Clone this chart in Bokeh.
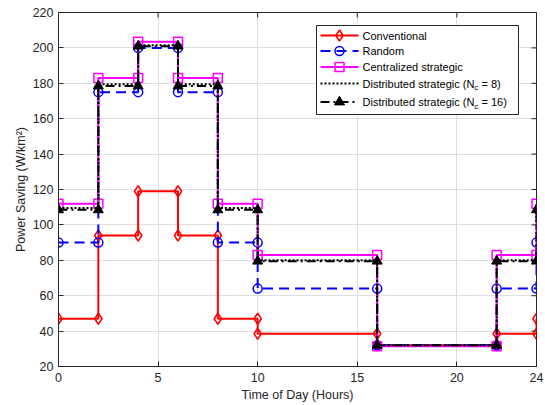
from bokeh.plotting import figure
from bokeh.models import Range1d, FixedTicker
from bokeh.core.properties import value
from bokeh.embed import file_html
from bokeh.resources import INLINE

# ---------------- data ----------------
hours = [0, 2, 4, 6, 8, 10, 16, 22, 24]
conventional = [47, 94, 119, 94, 47, 38.5, 32, 38.5]
random_ = [90, 175, 200, 175, 90, 64, 32, 64]
centralized = [112, 183, 203.5, 183, 112, 83, 31.5, 83]
dist_nc8 = [109.5, 179.5, 201.5, 179.5, 109.5, 80, 32, 80]
dist_nc16 = [108.5, 178.5, 201, 178.5, 108.5, 79.5, 32, 79.5]

x_ticks = [0, 5, 10, 15, 20, 24]
y_ticks = [20, 40, 60, 80, 100, 120, 140, 160, 180, 200, 220]

FONT = "Liberation Sans"
AX = "#262626"

X0, X1, Y0, Y1 = 0, 24, 20, 220
FW, FH = 478, 354
BL, BT, BR, BB = 58, 12, 9, 39

p = figure(width=BL + FW + BR, height=BT + FH + BB, frame_width=FW, frame_height=FH,
           output_backend="svg", toolbar_location=None,
           x_range=Range1d(X0, X1), y_range=Range1d(Y0, Y1),
           min_border_left=BL, min_border_top=BT, min_border_right=BR, min_border_bottom=BB)
p.background_fill_color = "white"
p.border_fill_color = "white"
p.outline_line_color = AX
p.outline_line_width = 1

for ax in (p.xaxis[0], p.yaxis[0]):
    ax.axis_line_color = AX
    ax.major_tick_line_color = AX
    ax.major_tick_in = 5
    ax.major_tick_out = 0
    ax.minor_tick_line_color = None
    ax.major_label_text_color = AX
    ax.major_label_text_font = FONT
    ax.major_label_text_font_size = "12.5px"
    ax.axis_label_text_font = FONT
    ax.axis_label_text_font_size = "12.5px"
    ax.axis_label_text_font_style = "normal"
    ax.axis_label_text_color = AX

p.xaxis.ticker = FixedTicker(ticks=x_ticks)
p.yaxis.ticker = FixedTicker(ticks=y_ticks)
p.xaxis.axis_label = "Time of Day (Hours)"
p.yaxis.axis_label = "Power Saving (W/km²)"
p.xaxis.major_label_standoff = 6
p.xaxis.axis_label_standoff = 3
p.yaxis.major_label_standoff = 5
p.yaxis.axis_label_standoff = 2

p.xgrid.ticker = FixedTicker(ticks=x_ticks)
p.ygrid.ticker = FixedTicker(ticks=y_ticks)
p.grid.grid_line_color = "#dfdfdf"
p.grid.grid_line_width = 1

# inward ticks on top and right edges (box style)
tlx = 5 * (X1 - X0) / FW
tly = 5 * (Y1 - Y0) / FH
p.segment(x0=x_ticks, x1=x_ticks, y0=[Y1] * len(x_ticks), y1=[Y1 - tly] * len(x_ticks),
          line_color=AX, line_width=1)
p.segment(x0=[X1] * len(y_ticks), x1=[X1 - tlx] * len(y_ticks), y0=y_ticks, y1=y_ticks,
          line_color=AX, line_width=1)


def stairs(vals):
    xs, ys = [], []
    for i, v in enumerate(vals):
        xs += [hours[i], hours[i + 1]]
        ys += [v, v]
    xs.append(hours[-1])
    ys.append(vals[0])
    return xs, ys


series = [
    (conventional, dict(line_color="red", line_width=2),
     dict(marker="diamond", size=11, line_color="red", fill_color=None, line_width=1.5)),
    (random_, dict(line_color="blue", line_width=2, line_dash="10 6"),
     dict(marker="circle", size=9, line_color="blue", fill_color=None, line_width=1.5)),
    (centralized, dict(line_color="magenta", line_width=2),
     dict(marker="square", size=9, line_color="magenta", fill_color=None, line_width=1.5)),
    (dist_nc8, dict(line_color="black", line_width=2, line_dash="2 2"), None),
    (dist_nc16, dict(line_color="black", line_width=2, line_dash="9 4 2 4"),
     dict(marker="triangle", size=10, line_color="black", fill_color="black", line_width=1)),
]

for vals, lkw, mkw in series:
    xs, ys = stairs(vals)
    p.line(xs, ys, **lkw)
    if mkw:
        p.scatter(xs, ys, **mkw)

# ---------------- custom legend ----------------
FL_PAGE, FT_PAGE = BL, BT


def px_x(px):
    return X0 + (px - FL_PAGE) / FW * (X1 - X0)


def px_y(py):
    return Y1 - (py - FT_PAGE) / FH * (Y1 - Y0)


p.quad(left=px_x(316), right=px_x(518), top=px_y(25), bottom=px_y(114),
       fill_color="white", line_color=AX, line_width=1)

ARIAL = {" ": 278, "(": 333, ")": 333, "=": 584, "1": 556, "6": 556, "8": 556,
         "D": 722, "N": 722, "a": 556, "b": 556, "c": 500, "d": 556, "e": 556,
         "g": 556, "i": 222, "r": 333, "s": 500, "t": 278, "u": 556}


def text_w(s, size):
    return sum(ARIAL.get(ch, 556) for ch in s) / 1000.0 * size


labels = ["Conventional", "Random", "Centralized strategic",
          ("Distributed strategic (N", "c", " = 8)"),
          ("Distributed strategic (N", "c", " = 16)")]
rows = [35, 50.5, 66.5, 83, 101.5]
LSIZE = 11
for (vals, lkw, mkw), lab, ry in zip(series, labels, rows):
    yy = px_y(ry)
    p.line([px_x(320), px_x(358)], [yy, yy], **lkw)
    if mkw:
        p.scatter([px_x(339)], [yy], **mkw)
    tx = 362
    if isinstance(lab, str):
        p.text([px_x(tx)], [yy], text=[lab], text_font=value(FONT), text_font_size=f"{LSIZE}px",
               text_baseline="middle", text_align="left", text_color="black")
    else:
        a, sub, b = lab
        p.text([px_x(tx)], [yy], text=[a], text_font=value(FONT), text_font_size=f"{LSIZE}px",
               text_baseline="middle", text_align="left", text_color="black")
        sx = tx + text_w(a, LSIZE)
        p.text([px_x(sx)], [yy], text=[sub], text_font=value(FONT), text_font_size="8px",
               text_baseline="middle", text_align="left", text_color="black", y_offset=4)
        lead = len(b) - len(b.lstrip(" "))
        bx = sx + text_w(sub, 8) + text_w(" " * lead, LSIZE)
        p.text([px_x(bx)], [yy], text=[b.lstrip(" ")], text_font=value(FONT),
               text_font_size=f"{LSIZE}px",
               text_baseline="middle", text_align="left", text_color="black")

open("out.html", "w").write(file_html(p, INLINE))
